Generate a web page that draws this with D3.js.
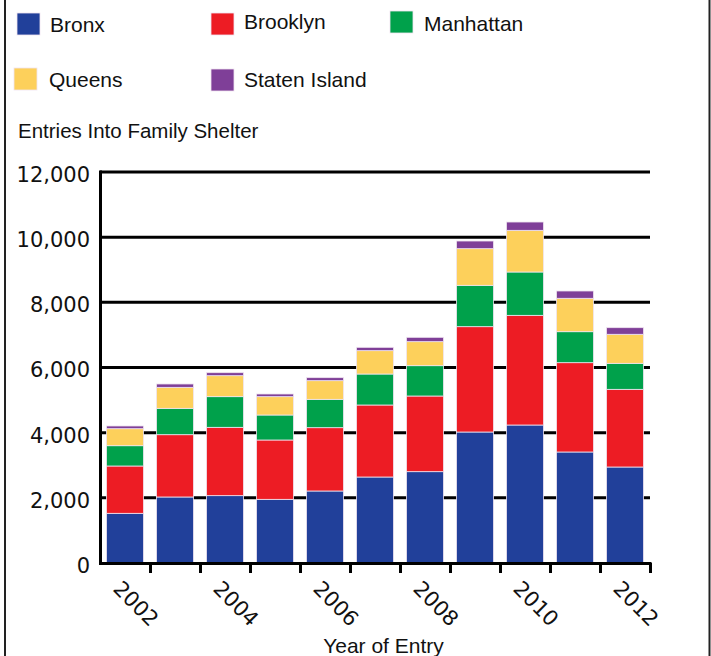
<!DOCTYPE html>
<html>
<head>
<meta charset="utf-8">
<script src="https://cdn.jsdelivr.net/npm/d3@7"></script>
<style>
  html, body { margin: 0; padding: 0; background: #fff; }
  svg { display: block; }
</style>
</head>
<body>
<svg id="chart" width="711" height="656"></svg>
<script>
// ---- data ----
const years = [2002, 2003, 2004, 2005, 2006, 2007, 2008, 2009, 2010, 2011, 2012];
const boroughs = ["Bronx", "Brooklyn", "Manhattan", "Queens", "Staten Island"];
const bronx     = [1525, 2026, 2067, 1954, 2210, 2639, 2803, 4020, 4235, 3407, 2946];
const brooklyn  = [1452, 1912, 2097, 1821, 1943, 2210, 2322, 3233, 3366, 2741, 2384];
const manhattan = [ 623,  809,  941,  767,  870,  951,  931, 1269, 1330,  951,  798];
const queens    = [ 522,  644,  644,  563,  573,  717,  737, 1125, 1279, 1025,  891];
const staten    = [  83,  103,   92,   82,   92,  102,  133,  235,  255,  224,  203];
const yTicks = [0, 2000, 4000, 6000, 8000, 10000, 12000];
const xLabelYears = [2002, 2004, 2006, 2008, 2010, 2012];
const yTitle = "Entries Into Family Shelter";
const xTitle = "Year of Entry";

// ---- styles / layout ----
const colors = ["#21409a", "#ed1c24", "#00a14b", "#fdd05b", "#7f3f98"];
const legendLayout = [
  {sx: 17, sy: 13, tx: 50, ty: 32},
  {sx: 211, sy: 13, tx: 244, ty: 29},
  {sx: 390, sy: 11, tx: 424, ty: 31},
  {sx: 14, sy: 68, tx: 49, ty: 87},
  {sx: 211, sy: 69, tx: 244, ty: 87}
];
const textFont = "'Liberation Sans', Arial, sans-serif";
const tickFont = "'DejaVu Sans', Verdana, sans-serif";

const svg = d3.select("#chart");
const series = [bronx, brooklyn, manhattan, queens, staten];
const table = years.map((yr, i) => {
  const row = {year: yr};
  boroughs.forEach((b, j) => row[b] = series[j][i]);
  return row;
});
const stacked = d3.stack().keys(boroughs)(table);

const x = d3.scaleBand().domain(years).range([100, 650]).paddingInner(0.26).paddingOuter(0.13);
const y = d3.scaleLinear().domain([0, 12000]).range([563, 172]);
const xEdge = d3.scaleLinear().domain([years[0] - 0.5, years[years.length - 1] + 0.5]).range([100, 650]);

// frame lines
svg.append("line").attr("x1", 5).attr("x2", 5).attr("y1", 0).attr("y2", 656)
  .attr("stroke", "#222").attr("stroke-width", 2);
svg.append("line").attr("x1", 709.5).attr("x2", 709.5).attr("y1", 0).attr("y2", 656)
  .attr("stroke", "#222").attr("stroke-width", 2);

// gridlines
svg.append("g").selectAll("line").data(yTicks.filter(d => d > 0)).join("line")
  .attr("x1", 100).attr("x2", 650)
  .attr("y1", d => y(d)).attr("y2", d => y(d))
  .attr("stroke", "#000").attr("stroke-width", 3);

// bars
svg.append("g").selectAll("g").data(stacked).join("g")
  .attr("fill", (d, i) => colors[i])
  .selectAll("rect").data(d => d).join("rect")
  .attr("x", d => x(d.data.year))
  .attr("width", x.bandwidth())
  .attr("y", d => y(d[1]))
  .attr("height", d => y(d[0]) - y(d[1]))
  .attr("stroke", "#efe4f0").attr("stroke-width", 0.8);

// y axis
const yAxis = svg.append("g").attr("transform", "translate(100,0)")
  .call(d3.axisLeft(y).tickValues(yTicks).tickFormat(d3.format(",")).tickSize(0).tickPadding(10));
yAxis.select(".domain").remove();
yAxis.selectAll("text").attr("font-family", tickFont).attr("font-size", 21)
  .attr("fill", "#111").attr("dy", "0.45em");
svg.append("line").attr("x1", 100.5).attr("x2", 100.5).attr("y1", 170.5).attr("y2", 564.5)
  .attr("stroke", "#000").attr("stroke-width", 3);

// x axis: tick marks at band edges
const xTickAxis = svg.append("g").attr("transform", "translate(0,563)")
  .call(d3.axisBottom(xEdge).tickValues(years.map(d => d + 0.5)).tickSize(10).tickFormat(""));
xTickAxis.select(".domain").remove();
xTickAxis.selectAll("line").attr("stroke", "#000").attr("stroke-width", 3);
svg.append("line").attr("x1", 99).attr("x2", 651.5).attr("y1", 563.5).attr("y2", 563.5)
  .attr("stroke", "#000").attr("stroke-width", 3);

// x labels (rotated)
const xLab = svg.append("g").attr("transform", "translate(0,563)")
  .call(d3.axisBottom(x).tickValues(xLabelYears).tickSize(0).tickFormat(d3.format("d")));
xLab.select(".domain").remove();
xLab.selectAll("text")
  .attr("font-family", tickFont).attr("font-size", 21).attr("fill", "#111")
  .attr("text-anchor", "start")
  .attr("y", 0).attr("dy", 0)
  .attr("transform", "translate(-13,27) rotate(45)");

// legend
const leg = svg.append("g").selectAll("g").data(boroughs).join("g");
leg.append("rect")
  .attr("x", (d, i) => legendLayout[i].sx).attr("y", (d, i) => legendLayout[i].sy)
  .attr("width", 23).attr("height", 22)
  .attr("fill", (d, i) => colors[i]).attr("stroke", "#efe4f0").attr("stroke-width", 0.8);
leg.append("text")
  .attr("x", (d, i) => legendLayout[i].tx).attr("y", (d, i) => legendLayout[i].ty)
  .attr("font-family", textFont).attr("font-size", 21).attr("fill", "#111")
  .text(d => d);

// titles
svg.append("text").attr("x", 18).attr("y", 138)
  .attr("font-family", textFont).attr("font-size", 20.5).attr("fill", "#111")
  .text(yTitle);
svg.append("text").attr("x", 383.5).attr("y", 653).attr("text-anchor", "middle")
  .attr("font-family", textFont).attr("font-size", 21).attr("fill", "#111")
  .text(xTitle);
</script>
</body>
</html>
